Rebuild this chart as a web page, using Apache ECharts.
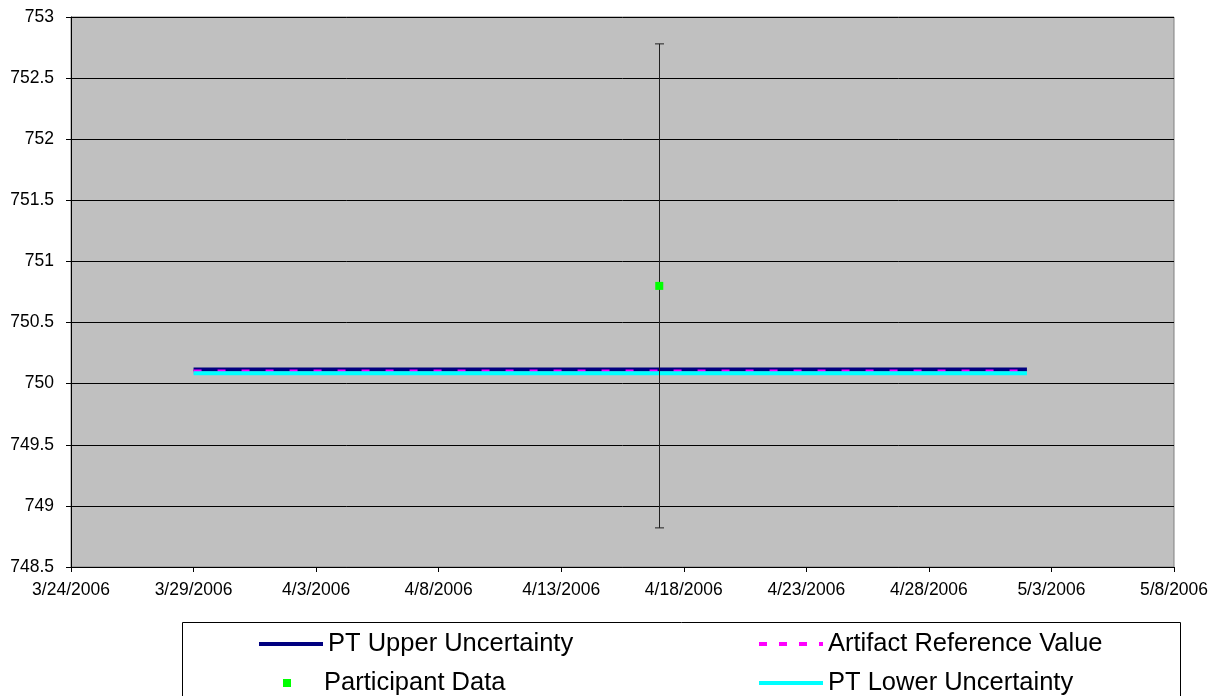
<!DOCTYPE html>
<html>
<head>
<meta charset="utf-8">
<script src="https://cdn.jsdelivr.net/npm/echarts@6/dist/echarts.min.js"></script>
<style>
html,body{margin:0;padding:0;background:#fff;}
#chart{width:1214px;height:696px;}
</style>
</head>
<body>
<div id="chart"></div>
<script>
// ---- data ----
const lineDates = ['3/29/2006', '5/2/2006'];
const upperValues = [750.115, 750.115];
const refValues = [750.1, 750.1];
const lowerValues = [750.085, 750.085];
const participantDates = ['4/17/2006'];
const participantValues = [750.8];
const participantUncertainty = [1.98];
const xAxisStart = '3/24/2006';
const xAxisEnd = '5/8/2006';
const xTickStepDays = 5;
const yMin = 748.5, yMax = 753, yStep = 0.5;
const seriesNames = ['PT Upper Uncertainty', 'Artifact Reference Value', 'Participant Data', 'PT Lower Uncertainty'];

// Excel-style serial day numbers
function serial(str) {
  const [m, d, y] = str.split('/').map(Number);
  return Date.UTC(y, m - 1, d) / 86400000 + 25569;
}
function fmt(v) {
  const dt = new Date(Math.round(v - 25569) * 86400000);
  return (dt.getUTCMonth() + 1) + '/' + dt.getUTCDate() + '/' + dt.getUTCFullYear();
}
const pairs = (ds, vs) => ds.map((d, i) => [serial(d), vs[i]]);

const chart = echarts.init(document.getElementById('chart'), null, {renderer: 'canvas'});
const font = 'Liberation Sans, Arial, sans-serif';

function legendAt(left, top, item) {
  return {
    left: left, top: top,
    itemWidth: 64, itemHeight: 10, itemGap: 0, padding: 0,
    textStyle: {fontFamily: font, fontSize: 25.5, color: '#000', padding: [0, 0, 0, 0]},
    selectedMode: false,
    data: [item]
  };
}
const hideSym = {opacity: 0};

const option = {
  animation: false,
  backgroundColor: '#fff',
  graphic: [{
    type: 'rect', z: 0,
    shape: {x: 182.5, y: 622.5, width: 998, height: 100},
    style: {fill: '#fff', stroke: '#000', lineWidth: 1}
  }],
  legend: [
    legendAt(257, 631, {name: seriesNames[0], itemStyle: hideSym, lineStyle: {width: 4, color: '#000080'}}),
    legendAt(757, 631, {name: seriesNames[1], itemStyle: hideSym, lineStyle: {width: 4, color: '#ff00ff', type: [8, 12]}}),
    legendAt(255, 670, {name: seriesNames[2]}),
    legendAt(757, 670, {name: seriesNames[3], itemStyle: hideSym, lineStyle: {width: 4, color: '#00ffff'}})
  ],
  grid: {
    left: 71, right: 40, top: 17, bottom: 129,
    show: true, backgroundColor: '#c0c0c0', borderColor: '#808080', borderWidth: 1
  },
  xAxis: {
    type: 'value',
    min: serial(xAxisStart), max: serial(xAxisEnd), interval: xTickStepDays,
    axisLine: {show: true, onZero: false, lineStyle: {color: '#000', width: 1}},
    axisTick: {show: true, length: 5, inside: false, lineStyle: {color: '#000'}},
    splitLine: {show: false},
    axisLabel: {formatter: fmt, fontFamily: font, fontSize: 17.5, color: '#000', margin: 14, showMinLabel: true, showMaxLabel: true}
  },
  yAxis: {
    type: 'value',
    min: yMin, max: yMax, interval: yStep,
    axisLine: {show: true, lineStyle: {color: '#000', width: 1}},
    axisTick: {show: true, length: 5, lineStyle: {color: '#000'}},
    splitLine: {show: true, lineStyle: {color: '#000', width: 1}},
    axisLabel: {formatter: v => String(+v.toFixed(1)), fontFamily: font, fontSize: 17.5, color: '#000', margin: 17}
  },
  series: [
    {
      name: seriesNames[0], type: 'line', data: pairs(lineDates, upperValues),
      symbol: 'none', z: 3,
      lineStyle: {color: '#000080', width: 4}, itemStyle: {color: '#000080'}
    },
    {
      name: seriesNames[1], type: 'line', data: pairs(lineDates, refValues),
      symbol: 'none', z: 4,
      lineStyle: {color: '#ff00ff', width: 4, type: [8, 16]}, itemStyle: {color: '#ff00ff'}
    },
    {
      name: seriesNames[3], type: 'line', data: pairs(lineDates, lowerValues),
      symbol: 'none', z: 5,
      lineStyle: {color: '#00ffff', width: 4}, itemStyle: {color: '#00ffff'}
    },
    {
      name: 'errorbar', type: 'custom', z: 6,
      data: participantDates.map((d, i) => [serial(d), participantValues[i] - participantUncertainty[i], participantValues[i] + participantUncertainty[i]]),
      renderItem: function (params, api) {
        const x = api.value(0);
        const top = api.coord([x, api.value(2)]);
        const bot = api.coord([x, api.value(1)]);
        const h = 4.5;
        const st = {stroke: '#202020', lineWidth: 1};
        const cx = Math.round(top[0]) + 0.5;
        return {
          type: 'group',
          children: [
            {type: 'line', shape: {x1: cx, y1: top[1], x2: cx, y2: bot[1]}, style: st},
            {type: 'line', shape: {x1: cx - h, y1: top[1], x2: cx + h, y2: top[1]}, style: st},
            {type: 'line', shape: {x1: cx - h, y1: bot[1], x2: cx + h, y2: bot[1]}, style: st}
          ]
        };
      }
    },
    {
      name: seriesNames[2], type: 'line', data: pairs(participantDates, participantValues),
      symbol: 'rect', symbolSize: 8, z: 7,
      lineStyle: {width: 0, opacity: 0},
      itemStyle: {color: '#00ff00', borderWidth: 0}
    }
  ]
};
chart.setOption(option);
</script>
</body>
</html>
